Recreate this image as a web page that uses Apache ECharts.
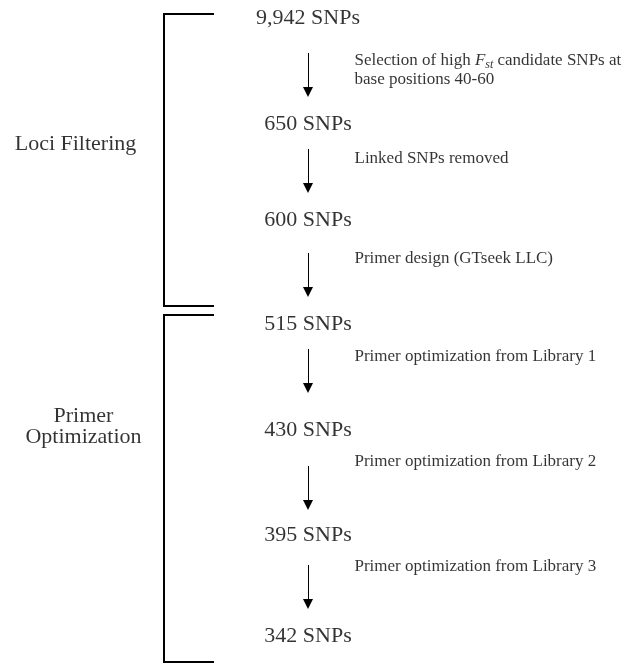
<!DOCTYPE html>
<html>
<head>
<meta charset="utf-8">
<script src="https://cdn.jsdelivr.net/npm/echarts@6/dist/echarts.min.js"></script>
<style>
  html, body { margin: 0; padding: 0; background: #fff; }
  #chart { width: 635px; height: 664px; }
</style>
</head>
<body>
<div id="chart"></div>
<script>
// ---- data ----
const snpCounts = [9942, 650, 600, 515, 430, 395, 342];
const stepTexts = [
  'Selection of high {i|F}{sub|st} candidate SNPs at\nbase positions 40-60',
  'Linked SNPs removed',
  'Primer design (GTseek LLC)',
  'Primer optimization from Library 1',
  'Primer optimization from Library 2',
  'Primer optimization from Library 3'
];
const phaseNames = ['Loci Filtering', 'Primer\nOptimization'];
const phaseSpan = [[0, 3], [3, 6]]; // indices of first/last SNP count in each phase

// ---- layout (diagram positions, in axis units = px) ----
const W = 635, H = 664;
const nodeX = 308;
const nodeY = [18, 124, 220, 324, 430, 535, 636];
const arrowTop = [53, 149, 253, 349, 466, 565];
const arrowTip = [97, 193, 297, 393, 510, 609];
const stepX = 354;
const stepY = [70, 159, 259, 357, 462, 567];
const phaseX = [75.5, 83.5];
const phaseY = [144, 426.5];
const bracketX = [164, 214];
const bracketTop = [14, 315];
const bracketBottom = [306, 662];
const headLen = 10;

const serif = '"Liberation Serif", "Times New Roman", serif';

const nodeData = snpCounts.map((c, i) => ({
  value: [nodeX, nodeY[i]],
  name: c.toLocaleString('en-US') + ' SNPs'
}));
const stepData = stepTexts.map((t, i) => ({ value: [stepX, stepY[i]], name: t }));
const phaseData = phaseNames.map((t, i) => ({ value: [phaseX[i], phaseY[i]], name: t }));
const arrowData = arrowTop.map((y0, i) => ({
  coords: [[nodeX, y0], [nodeX, arrowTip[i] - headLen / 2]]
}));
const bracketData = phaseSpan.map((s, i) => ({
  coords: [
    [bracketX[1], bracketTop[i]],
    [bracketX[0], bracketTop[i]],
    [bracketX[0], bracketBottom[i]],
    [bracketX[1], bracketBottom[i]]
  ]
}));

const chart = echarts.init(document.getElementById('chart'), null, { renderer: 'canvas' });
const hiddenSym = { symbol: 'circle', symbolSize: 1, itemStyle: { color: 'rgba(0,0,0,0)' } };

chart.setOption({
  animation: false,
  backgroundColor: '#fff',
  grid: { left: 0, right: 0, top: 0, bottom: 0 },
  xAxis: { type: 'value', min: 0, max: W, show: false },
  yAxis: { type: 'value', min: 0, max: H, inverse: true, show: false },
  series: [
    {
      type: 'lines',
      coordinateSystem: 'cartesian2d',
      polyline: true,
      data: bracketData,
      symbol: ['none', 'none'],
      lineStyle: { color: '#000', width: 2, opacity: 1 }
    },
    {
      type: 'lines',
      coordinateSystem: 'cartesian2d',
      data: arrowData,
      symbol: ['none', 'triangle'],
      symbolSize: [8, headLen],
      lineStyle: { color: '#000', width: 1, opacity: 1 },
      itemStyle: { color: '#000' }
    },
    Object.assign({
      type: 'scatter',
      data: nodeData,
      label: {
        show: true, position: 'inside', formatter: p => p.name,
        color: '#000', fontFamily: serif, fontSize: 22
      }
    }, hiddenSym),
    Object.assign({
      type: 'scatter',
      data: stepData,
      label: {
        show: true, position: 'right', distance: 0, formatter: p => p.name,
        color: '#000', fontFamily: serif, fontSize: 17, lineHeight: 19, align: 'left',
        rich: {
          i: { fontFamily: serif, fontSize: 17, fontStyle: 'italic', color: '#000' },
          sub: { fontFamily: serif, fontSize: 12, fontStyle: 'italic', color: '#000', padding: [8, 0, 0, 0] }
        }
      }
    }, hiddenSym),
    Object.assign({
      type: 'scatter',
      data: phaseData,
      label: {
        show: true, position: 'inside', formatter: p => p.name,
        color: '#000', fontFamily: serif, fontSize: 22, lineHeight: 21, align: 'center'
      }
    }, hiddenSym)
  ]
});
</script>
</body>
</html>
